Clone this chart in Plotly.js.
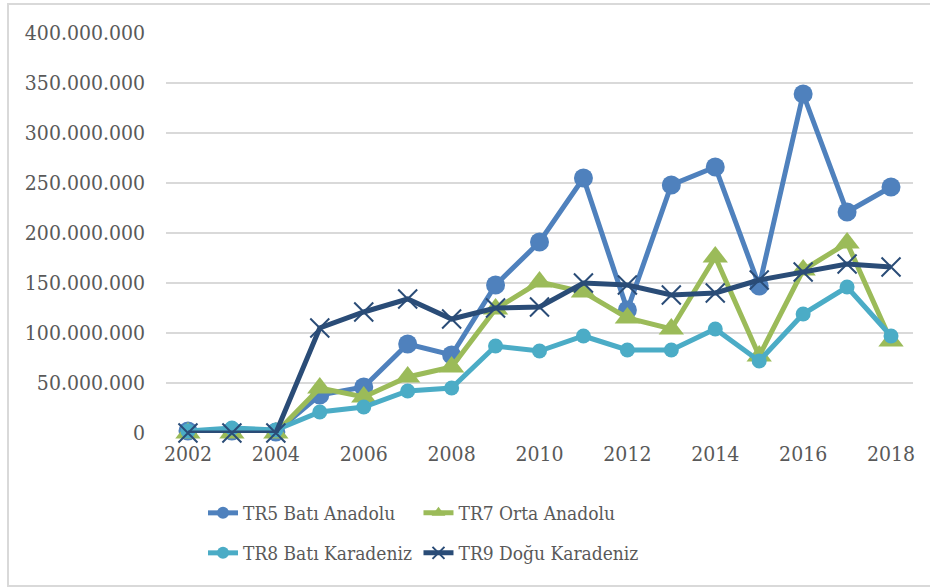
<!DOCTYPE html>
<html>
<head>
<meta charset="utf-8">
<script src="https://cdn.plot.ly/plotly-3.0.1.min.js"></script>
<style>html,body{margin:0;padding:0;background:#fff;}#chart{width:930px;height:587px;}</style>
</head>
<body>
<div id="chart"></div>
<script>
const years = ["2002","2003","2004","2005","2006","2007","2008","2009","2010","2011","2012","2013","2014","2015","2016","2017","2018"];
const tickLabels = ["2002","2004","2006","2008","2010","2012","2014","2016","2018"];
const yTicks = [0,50000000,100000000,150000000,200000000,250000000,300000000,350000000,400000000];
const yTickText = ["0","50.000.000","100.000.000","150.000.000","200.000.000","250.000.000","300.000.000","350.000.000","400.000.000"];
const tr5 = [2000000,2000000,1000000,38000000,46000000,89000000,78000000,148000000,191000000,255000000,123000000,248000000,266000000,147000000,339000000,221000000,246000000];
const tr7 = [0,0,0,45000000,36000000,56000000,66000000,124000000,151000000,141000000,115000000,104000000,176000000,77000000,163000000,190000000,92000000];
const tr8 = [2000000,5000000,3000000,21000000,26000000,42000000,45000000,87000000,82000000,97000000,83000000,83000000,104000000,72000000,119000000,146000000,97000000];
const tr9 = [0,0,0,105000000,121000000,134000000,114000000,125000000,126000000,150000000,148000000,138000000,140000000,153000000,161000000,169000000,166000000];

const names = ["TR5 Batı Anadolu","TR7 Orta Anadolu","TR8 Batı Karadeniz","TR9 Doğu Karadeniz"];
const series = [tr5, tr7, tr8, tr9];
const colors = ["#4f81bd","#9bbb59","#4bacc6","#2a4c77"];
const symbols = ["circle","triangle-up","circle","x-thin"];
const sizes = [19,22,15,19];
const legends = ["legend","legend2","legend3","legend4"];

const traces = series.map((s,i)=>({
  type:"scatter", mode:"lines+markers", x:years, y:s, name:names[i],
  legend:legends[i],
  line:{color:colors[i], width:5},
  marker:{symbol:symbols[i], size:sizes[i], color:colors[i], line:{color:colors[i], width: symbols[i]==="x-thin"?2:0}},
  cliponaxis:false
}));

const font = {family:"DejaVu Serif Condensed", size:21, color:"#595959"};
const legendFont = {family:"DejaVu Serif Condensed", size:19, color:"#595959"};
const legendCommon = {orientation:"h", xanchor:"left", yanchor:"middle", font:legendFont, bgcolor:"rgba(0,0,0,0)", itemsizing:"constant"};

const layout = {
  width:930, height:587,
  margin:{l:166, r:17, t:33, b:154},
  paper_bgcolor:"#fff", plot_bgcolor:"#fff",
  font:font,
  showlegend:true,
  xaxis:{type:"category", tickmode:"array", tickvals:tickLabels, ticktext:tickLabels, showgrid:false, zeroline:false, showline:false, ticks:"", tickfont:font, range:[-0.5,16.5], ticklabelstandoff:6},
  yaxis:{range:[0,400000000], tickmode:"array", tickvals:yTicks, ticktext:yTickText, showgrid:true, gridcolor:"#d9d9d9", gridwidth:2, zeroline:false, showline:false, ticks:"", tickfont:font, ticklabelstandoff:20},
  legend:Object.assign({x:0.0495, y:-0.2}, legendCommon),
  legend2:Object.assign({x:0.338, y:-0.2}, legendCommon),
  legend3:Object.assign({x:0.0495, y:-0.3}, legendCommon),
  legend4:Object.assign({x:0.338, y:-0.3}, legendCommon),
  shapes:[{type:"rect", xref:"paper", yref:"paper", x0:-0.2115, x1:1.05, y0:-0.3825, y1:1.0725, line:{color:"#d9d9d9", width:2}, fillcolor:"rgba(0,0,0,0)", layer:"below"}]
};

Plotly.newPlot("chart", traces, layout, {displayModeBar:false, staticPlot:true});
</script>
</body>
</html>
